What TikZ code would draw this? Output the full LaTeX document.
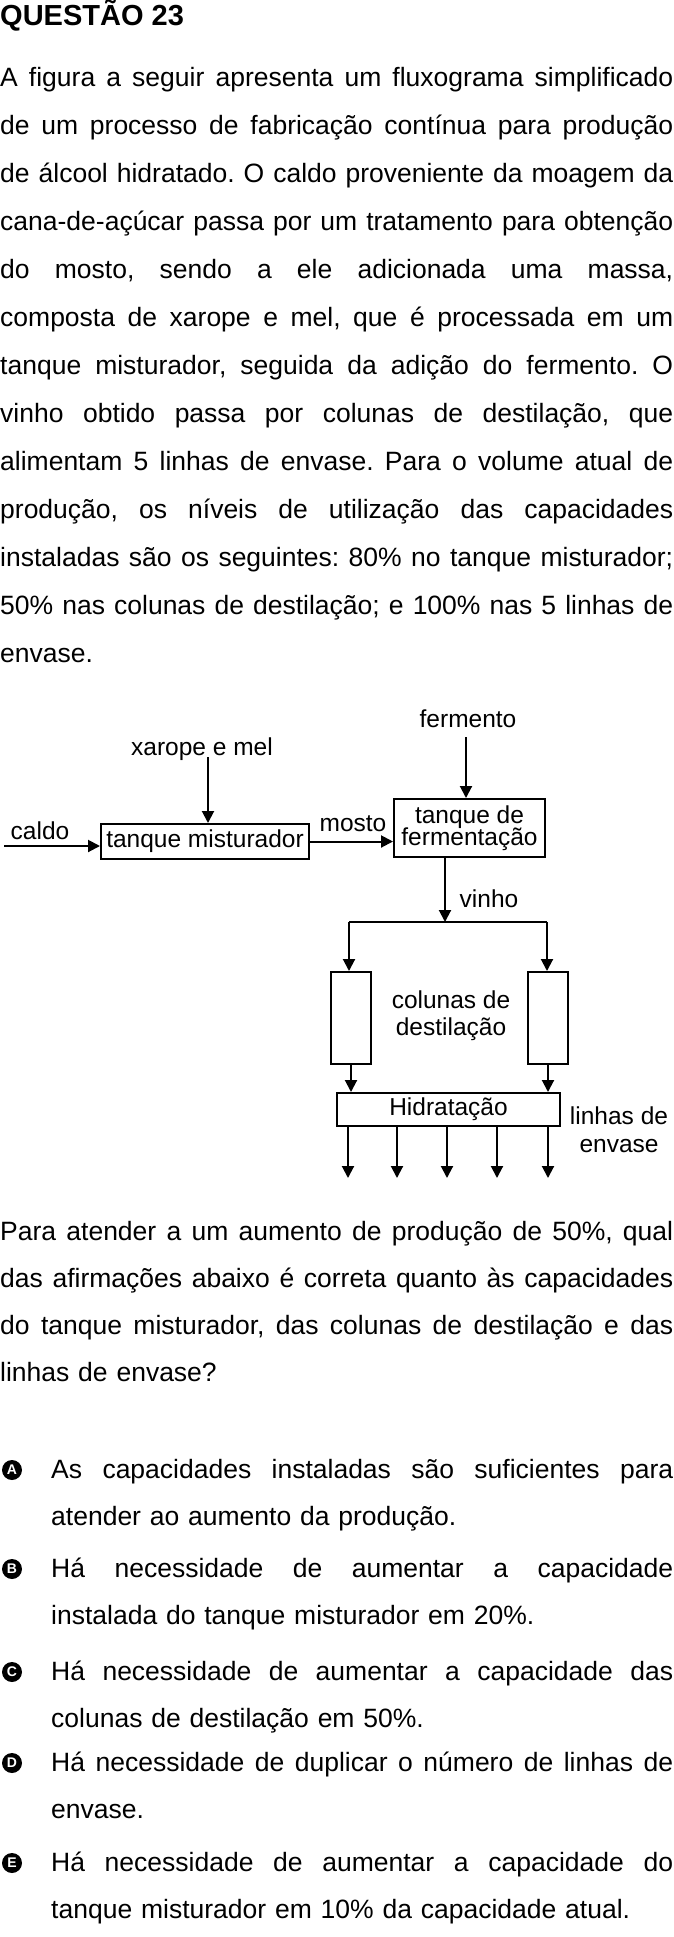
\documentclass[tikz,border=0pt]{standalone}
\usepackage{fontspec}
\setmainfont{Liberation Sans}
\usetikzlibrary{arrows.meta}
\frenchspacing
\newcommand\linha[2][673pt]{{\spaceskip=0.278em plus 1.5em minus 0.15em\makebox[#1][s]{#2}}}
\newcommand\rotfont{\fontsize{24.5}{22}\selectfont\lineskiplimit=-30pt}
\tikzset{
  flow/.style={line width=2pt,-{Triangle[length=12pt,width=12pt]}},
  caixa/.style={draw,line width=2pt,inner sep=0pt,align=center,font=\rotfont},
  rotulo/.style={inner sep=0pt,align=center,anchor=base,font=\rotfont},
  texto/.style={inner sep=0pt,anchor=base west,align=left,text width=673pt,font=\fontsize{26.5}{48}\selectfont},
  letra/.style={circle,fill=black,text=white,inner sep=0pt,minimum size=20pt,font=\fontsize{14}{14}\selectfont\bfseries}
}
\begin{document}
\begin{tikzpicture}[x=1pt,y=-1pt]
\useasboundingbox (0,0) rectangle (673,1937);

\node[anchor=base west,inner sep=0pt,font=\fontsize{29}{29}\selectfont\bfseries] (titulo) at (0,26) {QUESTÃO 23};

\node[texto] (par1) at (0,87) {\linha{A figura a seguir apresenta um fluxograma simplificado}\\
\linha{de um processo de fabricação contínua para produção}\\
\linha{de álcool hidratado. O caldo proveniente da moagem da}\\
\linha{cana-de-açúcar passa por um tratamento para obtenção}\\
\linha{do mosto, sendo a ele adicionada uma massa,}\\
\linha{composta de xarope e mel, que é processada em um}\\
\linha{tanque misturador, seguida da adição do fermento. O}\\
\linha{vinho obtido passa por colunas de destilação, que}\\
\linha{alimentam 5 linhas de envase. Para o volume atual de}\\
\linha{produção, os níveis de utilização das capacidades}\\
\linha{instaladas são os seguintes: 80\% no tanque misturador;}\\
\linha{50\% nas colunas de destilação; e 100\% nas 5 linhas de}\\
envase.};

\coordinate (caldoin) at (4,846);
\coordinate (xarin) at (208,757);
\coordinate (fermin) at (466,737);
\coordinate (split) at (445,922);
\coordinate (splitL) at (349,922);
\coordinate (splitR) at (547,922);

\node[caixa,minimum width=208pt,minimum height=35pt] (mix) at (205,841.5) {tanque misturador};
\node[caixa,minimum width=151pt,minimum height=58pt] (ferm) at (469.5,828) {tanque de\\fermentação};
\node[caixa,minimum width=40pt,minimum height=92pt] (col1) at (351,1018) {};
\node[caixa,minimum width=40pt,minimum height=92pt] (col2) at (548,1018) {};
\node[caixa,minimum width=223pt,minimum height=33pt] (hidr) at (448.5,1109.5) {Hidratação};

\node[rotulo] (caldo) at (40,839) {caldo};
\node[rotulo] (xarope) at (202,755) {xarope e mel};
\node[rotulo] (mosto) at (353,831) {mosto};
\node[rotulo] (fermento) at (468,727) {fermento};
\node[rotulo] (vinho) at (489,907) {vinho};
\node[rotulo,font=\fontsize{24.5}{27}\selectfont] (colunas) at (451,1035) {colunas de\\destilação};
\node[rotulo,font=\fontsize{24.5}{28}\selectfont] (linhas) at (619,1152) {linhas de\\envase};

\draw[flow] (caldoin) -- (caldoin -| mix.west);
\draw[flow] (xarin) -- (xarin |- mix.north);
\draw[flow] (mix.east) -- (mix.east -| ferm.west);
\draw[flow] (fermin) -- (fermin |- ferm.north);
\draw[flow] (split |- ferm.south) -- (split);
\draw[line width=2pt] (splitL) -- (splitR);
\draw[flow] (splitL) -- (splitL |- col1.north);
\draw[flow] (splitR) -- (splitR |- col2.north);
\draw[flow] (col1.south) -- (col1.south |- hidr.north);
\draw[flow] (col2.south) -- (col2.south |- hidr.north);
\foreach \x [count=\i] in {348,397,447,497,548} {
  \coordinate (linha\i) at (\x,1178);
  \draw[flow] (linha\i |- hidr.south) -- (linha\i);
}

\node[texto,font=\fontsize{26.5}{47.3}\selectfont] (par2) at (0,1240) {\linha{Para atender a um aumento de produção de 50\%, qual}\\
\linha{das afirmações abaixo é correta quanto às capacidades}\\
\linha{do tanque misturador, das colunas de destilação e das}\\
linhas de envase?};

\tikzset{opcao/.style={texto,text width=622pt,font=\fontsize{26.5}{47}\selectfont}}
\node[letra] (letraA) at (12,1470) {A};
\node[opcao] (opA) at (51,1478) {\linha[622pt]{As capacidades instaladas são suficientes para}\\atender ao aumento da produção.};
\node[letra] (letraB) at (12,1569) {B};
\node[opcao] (opB) at (51,1577) {\linha[622pt]{Há necessidade de aumentar a capacidade}\\instalada do tanque misturador em 20\%.};
\node[letra] (letraC) at (12,1672) {C};
\node[opcao] (opC) at (51,1680) {\linha[622pt]{Há necessidade de aumentar a capacidade das}\\colunas de destilação em 50\%.};
\node[letra] (letraD) at (12,1763) {D};
\node[opcao] (opD) at (51,1771) {\linha[622pt]{Há necessidade de duplicar o número de linhas de}\\envase.};
\node[letra] (letraE) at (12,1863) {E};
\node[opcao] (opE) at (51,1871) {\linha[622pt]{Há necessidade de aumentar a capacidade do}\\tanque misturador em 10\% da capacidade atual.};
\end{tikzpicture}
\end{document}
